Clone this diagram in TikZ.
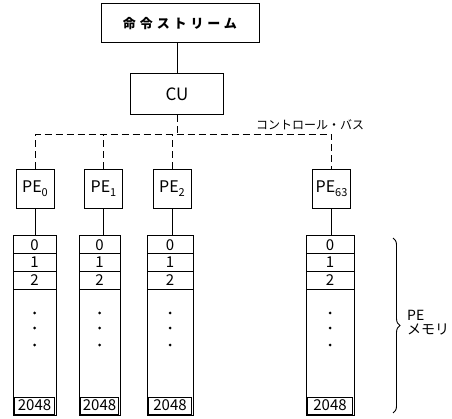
\documentclass[tikz,border=0pt]{standalone}
\usepackage{fontspec}
\setmainfont{Noto Sans CJK JP}
\usetikzlibrary{decorations.pathreplacing}
\newcommand\pename[1]{PE\raisebox{-0.45ex}{\fontsize{11}{11}\selectfont #1}}
\tikzset{
  box/.style={draw, line width=1pt, inner sep=0pt},
  cell/.style={draw, line width=0.9pt, inner sep=0pt, font=\fontsize{15}{15}\selectfont},
  bus/.style={line width=0.9pt, dash pattern=on 7pt off 4pt},
  link/.style={line width=0.9pt},
}
\begin{document}
\begin{tikzpicture}[x=1pt, y=-1pt, font=\fontsize{16}{18}\selectfont]
  \useasboundingbox (0,0) rectangle (452,419);
  % control side
  \node[box, minimum width=158pt, minimum height=39pt, font=\fontsize{13}{15}\selectfont\bfseries] (stream) at (180,23.5)
    {\addfontfeature{LetterSpace=30}命令ストリーム};
  \node[box, minimum width=93pt, minimum height=41pt, font=\fontsize{17}{19}\selectfont] (cu) at (177,94.5) {CU};
  \draw[link] (cu.north |- stream.south) -- (cu.north);
  \coordinate (bus) at (177,134.5);
  % PEs and their memories
  \foreach \i/\px/\mx/\mw in {0/35/34.5/43, 1/103.5/99.5/41, 2/172/170/46, 63/331.5/330/48} {
    \node[box, minimum width=38pt, minimum height=39pt] (pe\i) at (\px,189) {\pename{\i}};
    \node[box, minimum width={\mw pt}, minimum height=179pt] (mem\i) at (\mx,325.5) {};
    \node[cell, minimum width={\mw pt}, minimum height=17.7pt] (c0\i) at (\mx,244.8) {0};
    \node[cell, minimum width={\mw pt}, minimum height=17.7pt] (c1\i) at (\mx,262.5) {1};
    \node[cell, minimum width={\mw pt}, minimum height=17.7pt] (c2\i) at (\mx,280.2) {2};
    \node[cell, minimum width={\mw pt-3pt}, minimum height=17pt] (last\i) at (\mx,405.5) {2048};
    \foreach \d in {313,328,345} \fill (\mx,\d) circle[radius=1.5pt];
    \draw[link] (pe\i.south) -- (pe\i.south |- mem\i.north);
  }
  % control bus
  \draw[bus] (cu.south) -- (bus);
  \draw[bus] (pe0.north) |- (bus) -| (pe63.north);
  \draw[bus] (pe1.north) -- (pe1.north |- bus);
  \draw[bus] (pe2.north) -- (pe2.north |- bus);
  \node[anchor=base west, inner sep=0pt, font=\fontsize{12}{12}\selectfont] (buslabel) at (256,130) {コントロール・バス};
  % memory brace
  \draw[link, decorate, decoration={brace, amplitude=7pt}] (393,238) -- (393,413);
  \node[anchor=west, align=left, inner sep=0pt, font=\fontsize{14}{14}\selectfont] (memlabel) at (407,323) {PE\\メモリ};
\end{tikzpicture}
\end{document}
